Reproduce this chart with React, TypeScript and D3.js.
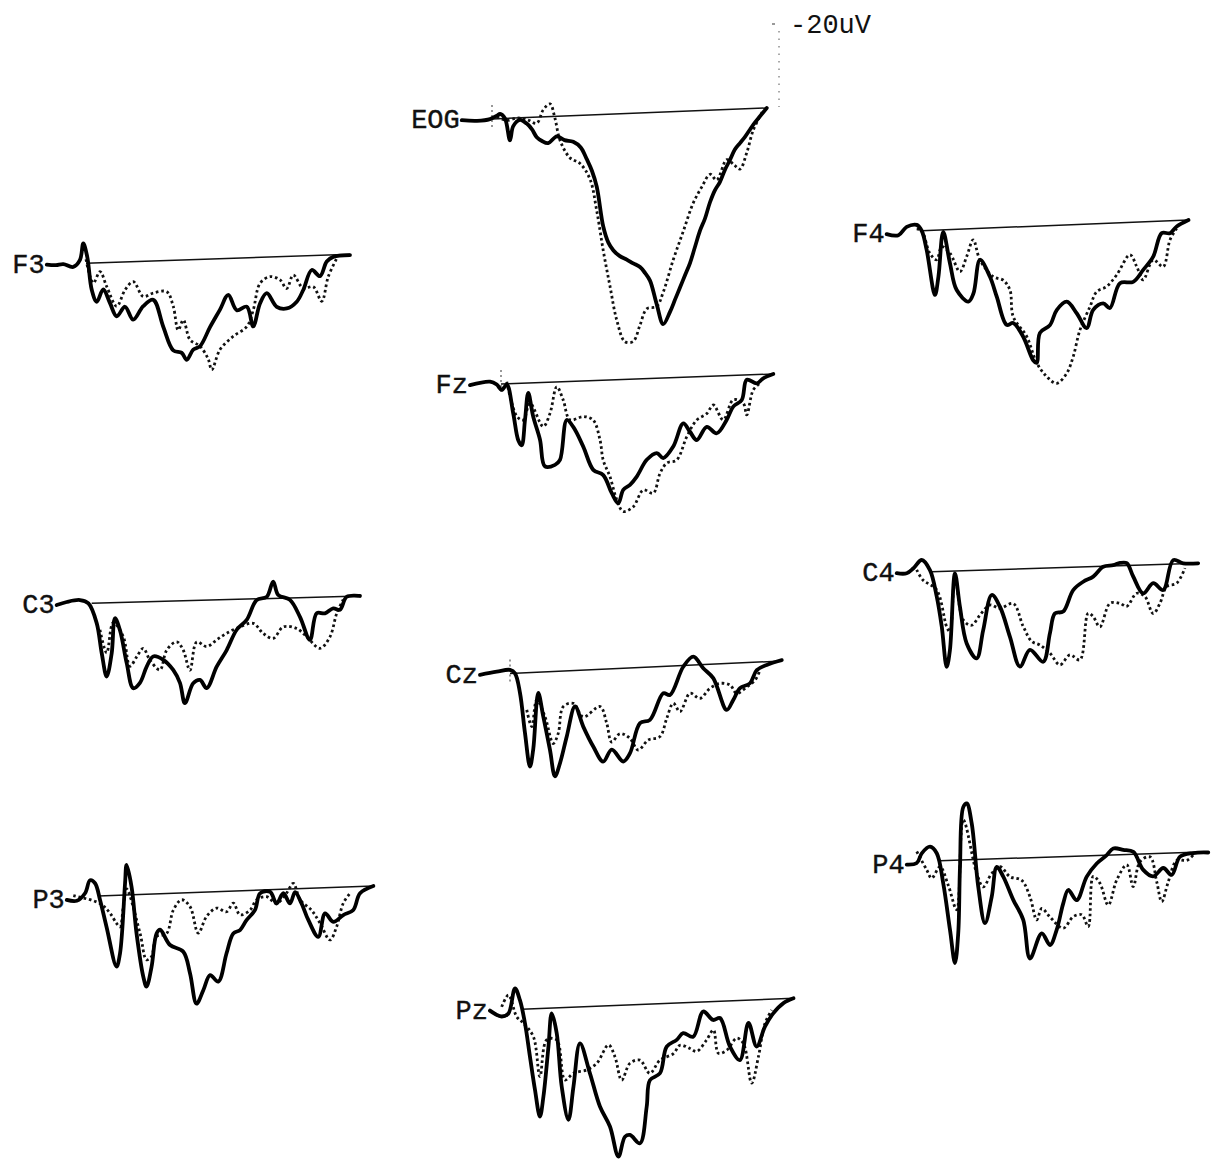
import React from "react";
import * as d3 from "d3";

type Pt = [number, number];

// time (ms) vs amplitude (uV, positive plotted downward)
const eogSolid: Pt[] = [[-121,0],[-60,0.3],[-8,0],[20,-0.8],[32,-1.2],[52,0],[72,5.5],[85,2],[112,0.5],[139,1.5],[160,3],[179,5],[200,6],[225,6.6],[259,5],[290,6],[325,6.5],[355,8],[379,11],[400,14],[419,18],[445,28],[465,32],[485,34],[510,35.5],[539,36.5],[565,37.5],[592,38.5],[612,40],[632,42],[659,48],[685,53],[712,50],[732,47],[752,44],[772,41],[792,38],[812,34],[832,30],[852,27],[872,23],[892,20],[912,18],[932,15],[952,12.6],[972,10],[992,8.5],[1012,7],[1032,5.2],[1052,3.5],[1072,2],[1099,0]];
const eogDotted: Pt[] = [[20,-0.5],[60,0.5],[100,0],[140,0.5],[179,1.5],[205,-1.8],[232,-3.2],[252,0.5],[272,6],[312,10.5],[352,12],[392,16],[419,24],[445,34],[472,43],[499,51.5],[532,57],[565,57],[592,53],[619,49],[659,48.5],[685,45],[725,37],[765,30],[805,23],[840,19],[872,16],[899,17.5],[939,12.5],[970,14],[992,15],[1019,11],[1045,5.4],[1085,0.5]];

const f3Solid: Pt[] = [[-157,0],[-120,0.2],[-91,0],[-51,0.8],[-24,-0.9],[-11,-5],[5,-1.6],[23,6.7],[43,9.7],[69,6.7],[95,10],[123,13.5],[156,11.2],[189,14.5],[229,11.2],[269,9.7],[309,16.5],[349,22.5],[383,23.2],[403,25],[429,22.5],[456,21.7],[496,17],[536,12.7],[569,9.1],[603,13],[643,12.2],[669,17.2],[696,11.5],[723,9],[763,12.5],[803,13],[843,11.4],[869,8.5],[903,3.6],[936,5.2],[963,1.6],[989,0.5],[1056,0.2]];
const f3Dotted: Pt[] = [[0,-1],[29,5],[56,2.2],[83,6],[123,11],[156,7],[189,5],[229,8.8],[269,8],[323,7.8],[349,11.5],[369,17.5],[389,15],[416,20],[456,21.7],[489,25],[503,27.7],[536,22.7],[589,19.5],[643,17.2],[669,13.1],[696,6.5],[736,4.9],[776,5.8],[803,8],[829,4.7],[869,8.1],[909,7.8],[943,11.5],[969,5.4],[1003,0.9]];

const f4Solid: Pt[] = [[-140,0.5],[-93,0.9],[-60,-1.1],[-20,-1.5],[0,0],[20,4.9],[53,16.2],[67,11.6],[86,0.5],[113,8.4],[140,15.2],[187,18.2],[207,16.2],[233,7.9],[273,12.2],[300,17.2],[340,24.4],[366,24],[406,27.5],[446,33.5],[460,34.2],[473,26.7],[513,24.9],[540,21.2],[580,19.2],[620,22.2],[660,26],[686,21.5],[726,20],[753,21.2],[793,15.1],[846,14.9],[886,12],[926,8.8],[960,3],[993,3.1],[1020,1.5],[1067,0]];
const f4Dotted: Pt[] = [[-20,-0.5],[0,0],[33,5.8],[60,7.4],[80,4.2],[113,5.9],[153,10.6],[180,6.9],[206,2.8],[233,7.9],[286,12.2],[326,13.2],[353,15.7],[366,22.4],[420,27.5],[460,34.2],[500,37.7],[540,39.5],[580,37.1],[606,33],[633,26.4],[673,20.7],[700,17],[740,15.8],[780,13],[833,8.1],[860,11.1],[886,14.5],[926,9.6],[966,11.4],[993,4.8],[1020,2]];

const fzSolid: Pt[] = [[-124,0],[-44,-0.7],[-17,0.1],[3,1.5],[23,0.2],[49,7.5],[69,14.2],[83,15.5],[96,9.2],[109,2.5],[129,8.5],[156,14.3],[176,21],[216,20.7],[236,19.5],[263,9.6],[289,11.4],[329,16.4],[369,22.3],[409,23.7],[443,28.3],[469,30.9],[489,27.6],[516,26.4],[543,24.4],[583,20.3],[623,18.7],[649,20],[689,17.2],[729,11.5],[756,13.7],[783,15.8],[823,12.6],[863,14.3],[903,11],[929,7.8],[963,6.2],[983,1.2],[1023,2.2],[1049,1],[1089,0]];
const fzDotted: Pt[] = [[23,-0.5],[63,8.2],[89,9.2],[116,5.1],[169,11],[196,7.8],[223,1.2],[249,4.6],[276,9.6],[329,8.9],[369,9.9],[396,14.9],[409,20],[436,24.2],[463,30],[489,33],[529,31.9],[569,27.8],[609,28.7],[636,23.8],[663,21.3],[703,20.6],[743,14.9],[783,10.8],[823,9.3],[849,7.2],[889,11],[929,6.1],[969,7],[983,10],[1009,3.8],[1036,2.2]];

const c3Solid: Pt[] = [[-140,0.2],[-100,-0.5],[-47,-0.9],[-13,0],[20,5],[40,12.5],[60,18.4],[80,12.6],[93,3.9],[113,6.9],[140,15.2],[166,21.5],[193,20.2],[220,16.2],[246,13.7],[286,14.6],[326,17.2],[353,20.5],[373,25.6],[406,20.7],[433,19.9],[460,22],[500,16.7],[540,12.6],[580,7.6],[620,5.2],[660,0.3],[700,-0.4],[726,-4.2],[746,-0.8],[793,0.5],[833,4.8],[873,10.6],[900,4],[933,4.1],[966,2.9],[993,3.3],[1020,0.1],[1073,0]];
const c3Dotted: Pt[] = [[33,6.7],[60,12.5],[86,5],[126,8.5],[153,16],[180,13.7],[206,11.6],[233,14.6],[273,17.1],[300,12.2],[340,10.2],[366,12.3],[393,17.4],[420,10.4],[460,11.6],[500,10],[540,8.4],[593,6.9],[646,6.1],[686,8.7],[726,10],[766,7.2],[820,7.7],[860,9.8],[913,12.8],[953,10],[980,4.2],[1006,0.8]];

const czSolid: Pt[] = [[-120,0],[-53,-0.6],[0,-0.9],[20,0],[40,5],[60,15.1],[80,23.5],[93,19.2],[113,5.2],[133,11.1],[160,19.6],[180,26.2],[200,23],[227,16.4],[260,9],[293,14.1],[333,19.2],[373,23.1],[407,20.2],[453,23.3],[480,21.3],[520,13.9],[560,13.2],[613,6.7],[640,7.2],[693,0.3],[733,-2.1],[773,0.9],[813,3.5],[867,11.6],[893,9.2],[920,6.3],[960,5.2],[987,2],[1027,0.8],[1087,-0.2]];
const czDotted: Pt[] = [[67,9.3],[87,13.5],[107,6.9],[140,11.2],[173,18],[193,15.5],[213,8.9],[253,8.2],[293,11.7],[360,9.3],[387,13.6],[407,18.3],[440,16.3],[480,17.6],[513,20.6],[553,18.2],[600,17.5],[627,13],[653,9.3],[680,11.5],[720,7],[760,8.4],[800,6],[840,4.9],[880,5.4],[907,7.6],[947,6.1],[980,4.5],[1000,2.1]];

const c4Solid: Pt[] = [[-140,0.1],[-100,0.2],[-73,-1],[-40,-3],[-7,-0.4],[20,6.2],[40,13.7],[60,23.9],[73,19.7],[93,0.6],[113,9],[140,18.2],[180,22],[206,15],[240,6.3],[273,9.3],[313,16.9],[353,24.4],[393,20.3],[446,23.4],[473,16.3],[493,11.4],[526,11],[566,5.7],[606,3.7],[646,2.5],[686,0.1],[726,-0.2],[753,-0.7],[780,-0.6],[806,2.8],[846,7.1],[886,4.6],[926,6.4],[966,-1],[1006,-0.1],[1066,0]];
const c4Dotted: Pt[] = [[-60,-0.6],[-35,2],[20,4.6],[60,13.9],[73,15.1],[93,1.4],[126,12.3],[160,13.7],[193,11.2],[233,8.8],[273,9.7],[326,8.6],[366,14.4],[400,18.2],[433,19.2],[473,21.3],[513,24.3],[553,21.9],[593,23.2],[626,11.6],[646,12.5],[673,15.1],[713,9.3],[753,9.4],[780,10.2],[820,7],[853,7.9],[886,12.2],[913,9.7],[940,5.6],[980,4.8],[1013,1.1]];

const p3Solid: Pt[] = [[-126,0.7],[-86,1],[-53,-0.8],[-33,-4],[-13,-3.2],[7,1],[33,7.8],[73,17.8],[87,14.5],[107,-2.9],[113,-7.5],[133,-2],[153,9.7],[180,20.6],[193,23.1],[213,18.2],[233,9.9],[247,9],[287,12.9],[340,14.7],[367,20.2],[393,27.8],[420,24.5],[447,20.8],[480,22.5],[513,15.5],[540,10.6],[567,9.8],[593,7.4],[627,4.9],[647,0.8],[687,0.5],[713,3.5],[740,1],[767,3.6],[787,0.8],[813,3.7],[840,7.9],[880,12.2],[907,6.4],[940,8.6],[980,7],[1020,5.8],[1047,1.7],[1100,0]];
const p3Dotted: Pt[] = [[-100,-0.3],[7,1.9],[47,4.4],[73,7],[87,7.9],[100,2.9],[113,-1.5],[167,9.7],[193,16.4],[213,15.6],[233,10.7],[273,10],[300,4.2],[333,1.7],[367,3.5],[400,10.2],[433,6.1],[473,4.1],[513,5.1],[540,3],[567,6],[607,4.9],[633,2.4],[673,1.7],[713,3.5],[753,1],[780,-1.4],[807,2.8],[853,5.5],[887,8.8],[927,13.1],[953,9.9],[980,4],[1007,1.6]];

const p4Solid: Pt[] = [[-133,0.7],[-93,0.4],[-73,-2],[-40,-3.6],[-13,-1.9],[13,5.7],[40,17.4],[60,25.7],[73,18.2],[80,1.7],[93,-13.2],[107,-14.1],[127,-9],[153,6.8],[180,16],[207,9.4],[227,2],[253,4.5],[293,10.4],[333,15.5],[360,25.2],[407,19],[440,22],[467,18.2],[493,11.7],[513,8.4],[547,11],[587,5.2],[627,2],[667,0],[693,-1.6],[733,-1.2],[773,-0.6],[813,4],[853,5.7],[893,3.7],[927,5.5],[960,1],[1013,0.2],[1073,0.2]];
const p4Dotted: Pt[] = [[-93,-2.5],[-53,2.2],[-33,4.3],[0,1.5],[33,6.2],[67,12.4],[93,-10],[147,3.5],[173,6.9],[207,3.6],[240,2],[280,4.6],[327,5.6],[360,9.8],[387,15.6],[407,12.8],[440,15],[493,17.9],[533,15.1],[567,14.7],[593,17.7],[613,5.2],[640,7],[673,12.5],[707,6.3],[747,2.6],[773,8.1],[800,1.9],[840,0.8],[867,7.1],[887,12.1],[913,7.2],[947,1.9],[987,2],[1013,0.7]];

const pzSolid: Pt[] = [[-127,0],[-80,1.6],[-53,0.9],[-27,-5.3],[-7,-2.3],[13,3.5],[33,11.9],[53,20.2],[73,27],[87,22],[107,9.6],[120,1.3],[140,6.3],[160,19.7],[187,28.1],[207,19.9],[233,9.1],[273,16.7],[313,25.1],[353,30.2],[387,37.8],[413,32.9],[433,32.5],[473,34.7],[500,25.6],[513,19],[553,17.4],[580,10.8],[620,9.2],[646,7.6],[686,8.6],[726,2.4],[766,4.6],[793,4.2],[833,11.4],[873,14.9],[907,5.7],[940,11.7],[973,6.8],[1007,3.5],[1047,1.1],[1087,0]];
const pzDotted: Pt[] = [[-80,-0.8],[-53,-3.7],[-20,1.8],[7,3.5],[47,7],[73,17],[100,7.9],[140,8],[173,18.1],[207,16.5],[260,15.8],[300,14.3],[347,9.8],[373,12.8],[400,18.7],[433,14.6],[473,13.9],[513,17.3],[553,14.1],[607,12.6],[633,10.6],[673,11.5],[700,12.3],[740,9.5],[767,7.1],[787,13],[820,12.3],[860,9.4],[887,10.8],[920,20.8],[947,14.2],[973,6],[1000,2.7]];

const channelNames = ["EOG", "F3", "F4", "Fz", "C3", "Cz", "C4", "P3", "P4", "Pz"];
const solidSeries = [eogSolid, f3Solid, f4Solid, fzSolid, c3Solid, czSolid, c4Solid, p3Solid, p4Solid, pzSolid];
const dottedSeries = [eogDotted, f3Dotted, f4Dotted, fzDotted, c3Dotted, czDotted, c4Dotted, p3Dotted, p4Dotted, pzDotted];
const calibrationLabel = "-20uV";
const calibrationValue = 20;

// layout (pixel placement of each channel's stimulus point and baseline tilt)
const panelLayout = [
  { x0: 492, y0: 119, k: -0.04, tick: true },
  { x0: 86, y0: 263.3, k: -0.034, tick: false },
  { x0: 921.7, y0: 230.7, k: -0.04, tick: false },
  { x0: 501, y0: 384, k: -0.0368, tick: true },
  { x0: 91.7, y0: 603.3, k: -0.0272, tick: false },
  { x0: 510, y0: 673.5, k: -0.046, tick: true },
  { x0: 931.7, y0: 571.7, k: -0.0315, tick: false },
  { x0: 98.3, y0: 896, k: -0.0364, tick: false },
  { x0: 940, y0: 860.7, k: -0.0335, tick: false },
  { x0: 521.7, y0: 1009.3, k: -0.0405, tick: false },
];

const xScale = d3.scaleLinear().domain([0, 1000]).range([0, 250]);
const yScale = d3.scaleLinear().domain([0, 10]).range([0, 40]);
const calScale = d3.scaleLinear().domain([0, calibrationValue]).range([0, 76]);

const lineGen = d3
  .line<Pt>()
  .x((d) => xScale(d[0]))
  .y((d) => yScale(d[1]))
  .curve(d3.curveCatmullRom.alpha(0.5));

const FONT = "'Liberation Mono', 'DejaVu Sans Mono', monospace";

function Panel({ i }: { i: number }) {
  const L = panelLayout[i];
  const solid = solidSeries[i];
  const dotted = dottedSeries[i];
  const tEnd = solid[solid.length - 1][0];
  const tStart = solid[0][0];
  const startX = L.x0 + xScale(tStart);
  const startY = L.y0 + L.k * xScale(tStart) + yScale(solid[0][1]);
  return (
    <g>
      <text
        x={startX - 2}
        y={startY + 8}
        textAnchor="end"
        fontFamily={FONT}
        fontSize={27}
        fill="#111"
        stroke="#111"
        strokeWidth={0.4}
      >
        {channelNames[i]}
      </text>
      <g transform={`translate(${L.x0},${L.y0}) matrix(1,${L.k},0,1,0,0)`}>
        <line
          x1={xScale(0)}
          y1={yScale(0)}
          x2={xScale(tEnd)}
          y2={yScale(0)}
          stroke="#111"
          strokeWidth={1.5}
        />
        {L.tick && (
          <line
            x1={0}
            x2={0}
            y1={-14}
            y2={8}
            stroke="#333"
            strokeWidth={1}
            strokeDasharray="2 3"
          />
        )}
        <path
          d={lineGen(dotted) || ""}
          fill="none"
          stroke="#111"
          strokeWidth={2.8}
          strokeDasharray="2.6 2.8"
        />
        <path
          d={lineGen(solid) || ""}
          fill="none"
          stroke="#000"
          strokeWidth={3.8}
          strokeLinejoin="round"
          strokeLinecap="round"
        />
      </g>
    </g>
  );
}

export default function App() {
  return (
    <svg
      width={1222}
      height={1163}
      style={{ position: "absolute", left: 0, top: 0, background: "#fff" }}
    >
      <rect x={0} y={0} width={1222} height={1163} fill="#fff" />
      <g>
        <line
          x1={779}
          x2={779}
          y1={107 - calScale(calibrationValue)}
          y2={107}
          stroke="#555"
          strokeWidth={1}
          strokeDasharray="1.5 6"
        />
        <line x1={772} x2={775} y1={24} y2={24} stroke="#555" strokeWidth={1.2} />
        <text x={790} y={33} fontFamily={FONT} fontSize={27} fill="#111">
          {calibrationLabel}
        </text>
      </g>
      {channelNames.map((_, i) => (
        <Panel key={i} i={i} />
      ))}
    </svg>
  );
}
